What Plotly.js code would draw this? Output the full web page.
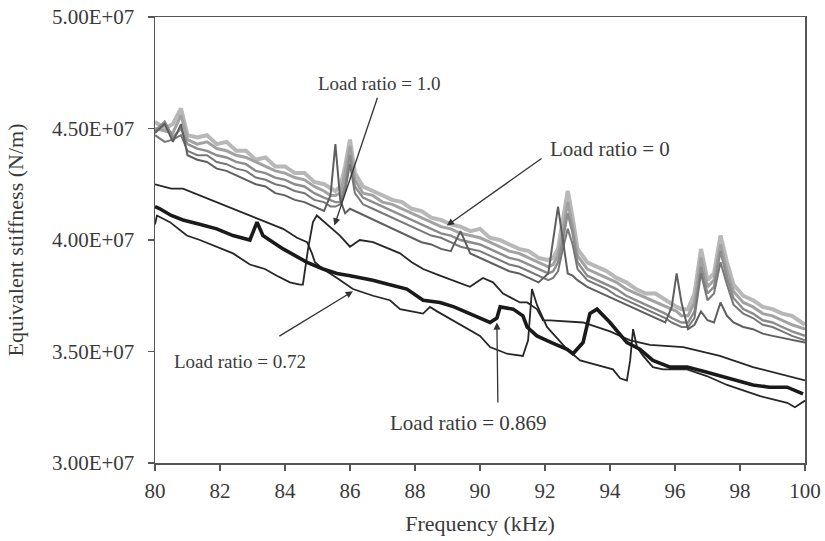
<!DOCTYPE html>
<html>
<head>
<meta charset="utf-8">
<script src="https://cdn.plot.ly/plotly-3.0.1.min.js"></script>
<style>
html,body{margin:0;padding:0;background:#fff;}
#chart{width:825px;height:541px;}
</style>
</head>
<body>
<div id="chart"></div>
<script>
// Stiffness values are in units of 1e7 N/m
const grayFreq = [80.0,80.3,80.55,80.8,81.0,81.3,81.6,81.9,82.2,82.5,82.8,83.1,83.4,83.7,84.0,84.3,84.6,84.9,85.2,85.4,85.55,85.7,85.85,86.0,86.15,86.4,86.7,87.0,87.3,87.6,87.9,88.2,88.5,88.8,89.1,89.4,89.7,90.0,90.3,90.6,90.9,91.2,91.5,91.8,92.1,92.25,92.4,92.55,92.7,92.85,93.0,93.3,93.6,93.9,94.2,94.5,94.8,95.1,95.4,95.7,95.9,96.05,96.2,96.4,96.6,96.8,97.0,97.2,97.4,97.6,97.8,98.1,98.4,98.7,99.0,99.3,99.6,100.0];

const gray1 = [4.53,4.50,4.52,4.59,4.47,4.46,4.47,4.43,4.44,4.40,4.40,4.36,4.37,4.33,4.33,4.30,4.30,4.26,4.25,4.23,4.22,4.24,4.33,4.45,4.30,4.24,4.22,4.20,4.18,4.17,4.14,4.13,4.10,4.09,4.07,4.06,4.04,4.05,4.01,4.00,3.98,3.96,3.95,3.92,3.91,3.92,3.96,4.08,4.22,4.10,3.96,3.90,3.88,3.86,3.83,3.81,3.78,3.76,3.76,3.73,3.71,3.70,3.69,3.69,3.76,3.96,3.82,3.85,4.02,3.90,3.80,3.75,3.73,3.70,3.69,3.67,3.66,3.62];
const gray2 = [4.50,4.49,4.48,4.56,4.45,4.43,4.44,4.41,4.40,4.38,4.37,4.35,4.33,4.31,4.30,4.28,4.27,4.24,4.22,4.20,4.20,4.21,4.30,4.42,4.27,4.21,4.20,4.17,4.16,4.14,4.12,4.10,4.08,4.06,4.05,4.03,4.02,4.01,3.99,3.97,3.95,3.94,3.92,3.90,3.88,3.89,3.93,4.04,4.17,4.06,3.93,3.87,3.85,3.83,3.81,3.78,3.76,3.74,3.72,3.70,3.69,3.68,3.66,3.66,3.72,3.92,3.79,3.82,3.98,3.86,3.77,3.72,3.70,3.67,3.66,3.64,3.62,3.60];
const gray3 = [4.49,4.53,4.46,4.50,4.43,4.41,4.40,4.38,4.37,4.35,4.34,4.31,4.30,4.28,4.27,4.25,4.24,4.21,4.19,4.18,4.17,4.17,4.25,4.38,4.24,4.19,4.17,4.15,4.13,4.11,4.09,4.07,4.05,4.03,4.02,4.00,3.99,3.98,3.96,3.94,3.92,3.91,3.89,3.87,3.85,3.86,3.90,4.00,4.12,4.03,3.90,3.84,3.82,3.80,3.78,3.75,3.73,3.71,3.69,3.67,3.65,3.64,3.63,3.63,3.68,3.88,3.76,3.79,3.95,3.83,3.74,3.69,3.67,3.64,3.63,3.61,3.59,3.57];
const gray4 = [4.47,4.44,4.45,4.47,4.40,4.38,4.38,4.35,4.34,4.32,4.31,4.28,4.27,4.25,4.24,4.22,4.21,4.18,4.17,4.15,4.15,4.16,4.22,4.34,4.21,4.16,4.14,4.12,4.10,4.08,4.06,4.04,4.02,4.01,3.99,3.97,3.96,3.95,3.93,3.91,3.89,3.88,3.86,3.84,3.82,3.83,3.86,3.96,4.05,3.98,3.87,3.82,3.80,3.78,3.75,3.73,3.71,3.69,3.67,3.65,3.63,3.62,3.61,3.61,3.65,3.85,3.73,3.76,3.90,3.80,3.71,3.67,3.65,3.62,3.61,3.59,3.57,3.55];
const gray5 = [4.48,4.52,4.44,4.52,4.38,4.36,4.35,4.32,4.31,4.29,4.27,4.25,4.24,4.21,4.20,4.18,4.17,4.15,4.13,4.20,4.43,4.18,4.12,4.14,4.13,4.11,4.09,4.07,4.05,4.03,4.01,3.99,3.98,3.96,3.95,4.04,3.94,3.92,3.90,3.88,3.86,3.85,3.83,3.81,3.85,4.00,4.15,4.00,3.85,3.84,3.82,3.79,3.77,3.75,3.73,3.71,3.69,3.67,3.65,3.63,3.70,3.85,3.72,3.60,3.62,3.68,3.64,3.63,3.72,3.66,3.63,3.61,3.60,3.58,3.57,3.56,3.55,3.54];

const freq072 = [80.0,80.5,80.86,81.38,81.9,82.4,82.92,83.45,83.94,84.37,84.68,84.83,84.92,85.17,85.6,86.09,86.71,87.23,87.54,88.25,88.46,88.68,89.17,90.0,90.31,90.83,91.32,91.48,91.6,91.75,92.06,92.68,93.08,93.6,94.09,94.31,94.52,94.62,94.71,94.83,95.02,95.32,95.63,96.37,96.98,97.6,98.22,98.62,99.45,99.69,100.0];
const stiff072 = [4.25,4.23,4.23,4.20,4.17,4.14,4.11,4.08,4.05,4.01,3.99,3.94,3.90,3.87,3.83,3.78,3.75,3.73,3.69,3.67,3.70,3.68,3.64,3.57,3.52,3.49,3.48,3.55,3.78,3.71,3.61,3.51,3.46,3.44,3.42,3.38,3.37,3.46,3.60,3.52,3.48,3.43,3.42,3.42,3.39,3.35,3.32,3.30,3.27,3.25,3.28];

const freq10 = [80.0,80.06,80.46,80.98,81.38,81.9,82.4,82.92,83.38,83.75,84.15,84.46,84.55,84.71,84.86,84.98,85.14,85.38,85.69,86.0,86.3,86.71,87.23,87.54,87.9,88.25,88.77,89.29,89.69,90.09,90.4,90.71,91.23,91.45,91.75,91.94,92.15,93.17,93.38,94.0,94.62,95.23,96.25,96.77,97.38,98.4,99.45,100.0];
const stiff10 = [4.07,4.11,4.08,4.02,4.00,3.97,3.94,3.89,3.87,3.84,3.81,3.80,3.80,3.96,4.08,4.11,4.09,4.06,4.02,3.97,4.00,3.99,3.96,3.94,3.90,3.87,3.84,3.81,3.79,3.83,3.81,3.76,3.72,3.72,3.69,3.64,3.64,3.63,3.62,3.59,3.55,3.53,3.52,3.50,3.48,3.43,3.39,3.37];

const freq0869 = [80.0,80.15,80.5,80.86,81.4,81.9,82.4,82.92,83.14,83.32,83.94,84.3,84.68,85.17,85.6,86.0,86.7,87.2,87.75,88.25,88.77,89.2,89.69,90.31,90.52,90.62,91.02,91.32,91.45,91.75,92.2,92.68,92.86,93.17,93.38,93.6,94.0,94.52,94.92,95.32,95.85,96.37,96.9,97.38,97.9,98.4,98.9,99.45,99.94];
const stiff0869 = [4.15,4.14,4.11,4.09,4.07,4.05,4.02,4.00,4.08,4.02,3.96,3.93,3.90,3.87,3.85,3.84,3.82,3.80,3.78,3.73,3.72,3.70,3.67,3.63,3.65,3.70,3.69,3.66,3.61,3.57,3.54,3.51,3.49,3.54,3.67,3.69,3.63,3.54,3.51,3.46,3.43,3.43,3.41,3.39,3.37,3.35,3.34,3.34,3.31];

const yTickVals = [3.0, 3.5, 4.0, 4.5, 5.0];
const yTickText = ['3.00E+07','3.50E+07','4.00E+07','4.50E+07','5.00E+07'];
const xTickVals = [80,82,84,86,88,90,92,94,96,98,100];

const E7 = 1e7;
const sc = a => a.map(v => v * E7);

const FONT = '"Liberation Serif", "Times New Roman", serif';
const TXT = '#3a3a3a';

function line(x, y, color, width) {
  return {x: x, y: sc(y), type: 'scatter', mode: 'lines',
    line: {color: color, width: width, shape: 'linear'}, hoverinfo: 'skip', showlegend: false};
}

const traces = [
  line(grayFreq, gray1, '#b8b8b8', 4),
  line(grayFreq, gray2, '#a2a2a2', 3),
  line(grayFreq, gray3, '#8c8c8c', 2.4),
  line(grayFreq, gray4, '#777777', 2),
  line(grayFreq, gray5, '#5f5f5f', 2),
  line(freq072, stiff072, '#262626', 1.8),
  line(freq10, stiff10, '#262626', 1.8),
  line(freq0869, stiff0869, '#1a1a1a', 3.6)
];

function label(text, x, y, size) {
  return {text: text, x: x, y: y * E7, xref: 'x', yref: 'y', showarrow: false,
    xanchor: 'center', yanchor: 'middle', font: {family: FONT, size: size, color: TXT}};
}
function arrow(hx, hy, tx, ty) {
  return {text: '', x: hx, y: hy * E7, ax: tx, ay: ty * E7, xref: 'x', yref: 'y',
    axref: 'x', ayref: 'y', showarrow: true, arrowhead: 2, arrowsize: 1.1,
    arrowwidth: 1.3, arrowcolor: '#333', standoff: 0, startstandoff: 0};
}

const layout = {
  width: 825, height: 541,
  margin: {l: 155, r: 20, t: 17, b: 78},
  paper_bgcolor: '#fff', plot_bgcolor: '#fff',
  font: {family: FONT, size: 20, color: TXT},
  xaxis: {
    range: [80, 100], tickvals: xTickVals, ticks: 'outside', ticklen: 6, tickwidth: 1.3,
    tickcolor: '#555', showline: true, linecolor: '#555', linewidth: 1.5, mirror: true,
    showgrid: false, zeroline: false, ticklabelstandoff: 2,
    tickfont: {family: FONT, size: 21, color: TXT},
    title: {text: 'Frequency (kHz)', font: {family: FONT, size: 22, color: TXT}, standoff: 14}
  },
  yaxis: {
    range: [3e7, 5e7], tickvals: sc(yTickVals), ticktext: yTickText, ticks: 'outside', ticklen: 6,
    tickwidth: 1.3, tickcolor: '#555', showline: true, linecolor: '#555', linewidth: 1.5, mirror: true,
    showgrid: false, zeroline: false, ticklabelstandoff: 9,
    tickfont: {family: FONT, size: 21, color: TXT},
    title: {text: 'Equivalent stiffness (N/m)', font: {family: FONT, size: 22, color: TXT}, standoff: 22}
  },
  annotations: [
    label('Load ratio = 1.0', 86.92, 4.703, 19),
    label('Load ratio = 0', 94.0, 4.407, 21),
    label('Load ratio = 0.72', 82.62, 3.454, 19),
    label('Load ratio = 0.869', 89.63, 3.18, 21),
    arrow(85.52, 4.065, 86.86, 4.645),
    arrow(88.98, 4.065, 91.94, 4.37),
    arrow(86.09, 3.77, 83.78, 3.565),
    arrow(90.52, 3.63, 90.55, 3.265)
  ],
  showlegend: false
};

Plotly.newPlot('chart', traces, layout, {displayModeBar: false, staticPlot: true});
</script>
</body>
</html>
